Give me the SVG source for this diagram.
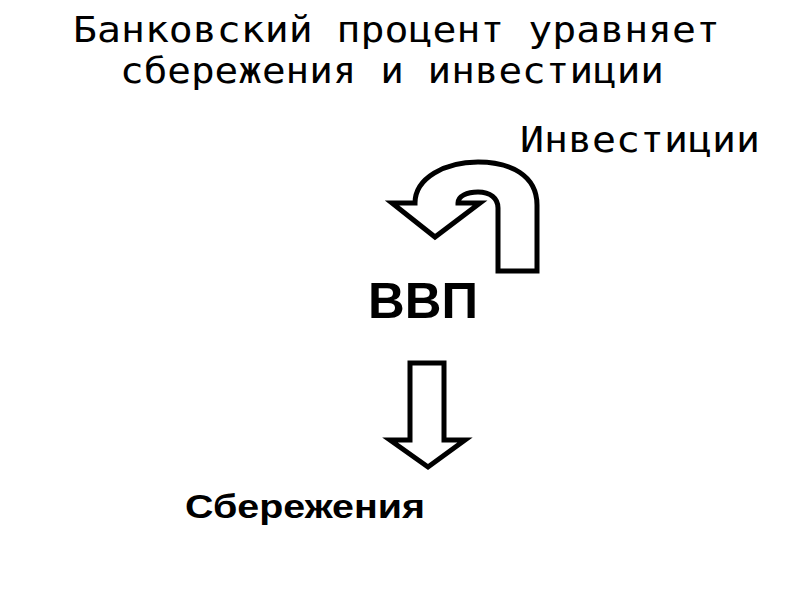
<svg xmlns="http://www.w3.org/2000/svg" width="794" height="595" viewBox="0 0 794 595">
<style>
.m{font-family:"DejaVu Sans Mono",monospace;font-size:36px;fill:#000}
.b{font-family:"Liberation Sans",Arial,sans-serif;font-weight:bold;fill:#000}
.a{fill:#fff;stroke:#000;stroke-width:5;stroke-linejoin:miter}
</style>
<rect width="794" height="595" fill="#fff"/>
<g id="title">
<text class="m" x="73" y="42" textLength="647" lengthAdjust="spacingAndGlyphs">Банковский процент уравняет</text>
<text class="m" x="120" y="83" textLength="544" lengthAdjust="spacingAndGlyphs">сбережения и инвестиции</text>
</g>
<g id="investments"><text class="m" x="520" y="152" textLength="240" lengthAdjust="spacingAndGlyphs">Инвестиции</text></g>
<g id="gdp"><text class="b" x="368" y="318" font-size="50" textLength="110" lengthAdjust="spacingAndGlyphs">ВВП</text></g>
<g id="savings"><text class="b" x="185" y="518" font-size="33" textLength="240" lengthAdjust="spacingAndGlyphs">Сбережения</text></g>
<g id="connectors">
<path class="a" d="M498,271 L537,271 L537,205 C537,175 510,162 478,162 C445,162 415,178 415,203 L392,203 L435,237 L480,203 L458,203 C458,196 467,192 478,192 C490,192 498,198 498,208 Z"/>
<path class="a" d="M410,363 L444,363 L444,440 L465,440 L428,467 L390,440 L410,440 Z"/>
</g>
</svg>
